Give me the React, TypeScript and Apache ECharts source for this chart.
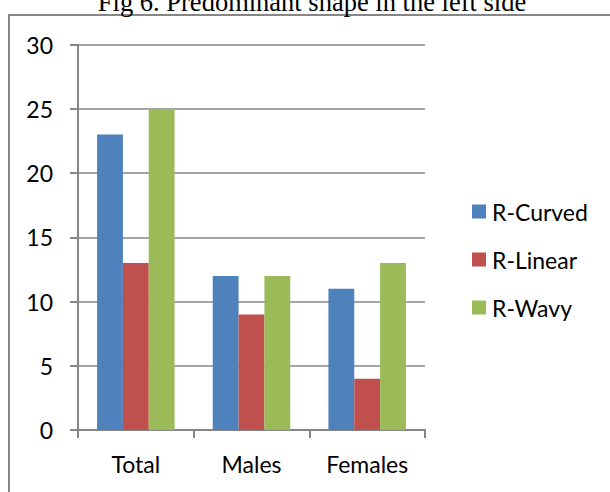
import React, { useEffect, useRef } from "react";
import * as echarts from "echarts";

const categories = ["Total", "Males", "Females"];
const seriesNames = ["R-Curved", "R-Linear", "R-Wavy"];
const rCurved = [23, 12, 11];
const rLinear = [13, 9, 4];
const rWavy = [25, 12, 13];
const yTicks = { min: 0, max: 30, interval: 5 };
const colors = ["#4F81BD", "#C0504D", "#9BBB59"];
const titleText = "Fig 6. Predominant shape in the left side";

export default function App() {
  const ref = useRef<HTMLDivElement>(null);
  useEffect(() => {
    if (!ref.current) return;
    const chart = echarts.init(ref.current, null, { renderer: "svg" });
    const font = "Lato";
    const grey = "#868686";
    const data = [rCurved, rLinear, rWavy];
    chart.setOption({
      animation: false,
      backgroundColor: "#ffffff",
      graphic: [
        {
          type: "rect",
          shape: { x: 9, y: 15, width: 800, height: 700 },
          style: { fill: "none", stroke: grey, lineWidth: 2 },
          silent: true,
        },
        {
          type: "text",
          x: 312,
          y: 2,
          style: {
            text: titleText,
            font: "26.5px 'Liberation Serif'",
            fill: "#000",
            align: "center",
            verticalAlign: "middle",
          },
        },
      ],
      legend: {
        orient: "vertical",
        left: 467,
        top: 195,
        itemWidth: 14,
        itemHeight: 14,
        itemGap: 25,
        icon: "rect",
        data: seriesNames,
        textStyle: { fontFamily: font, fontSize: 23, color: "#000", padding: [0, 0, 0, 1] },
      },
      grid: { left: 78, right: 185, top: 44.7, bottom: 62 },
      xAxis: {
        type: "category",
        data: categories,
        axisLine: { lineStyle: { color: grey, width: 2 } },
        axisTick: { show: true, length: 8, lineStyle: { color: grey, width: 2 } },
        axisLabel: { fontFamily: font, fontSize: 23, color: "#000", margin: 22 },
      },
      yAxis: {
        type: "value",
        min: yTicks.min,
        max: yTicks.max,
        interval: yTicks.interval,
        axisLine: { show: true, lineStyle: { color: grey, width: 2 } },
        axisTick: { show: true, length: 8, lineStyle: { color: grey, width: 2 } },
        splitLine: { lineStyle: { color: grey, width: 1.5 } },
        axisLabel: { fontFamily: font, fontSize: 23, color: "#000", margin: 25 },
      },
      series: seriesNames.map((name, i) => ({
        name,
        type: "bar",
        data: data[i],
        barGap: "0%",
        barCategoryGap: "33%",
        itemStyle: { color: colors[i] },
      })),
    });
    return () => chart.dispose();
  }, []);
  return (
    <div
      ref={ref}
      style={{ position: "fixed", left: 0, top: 0, width: 610, height: 492 }}
    />
  );
}
